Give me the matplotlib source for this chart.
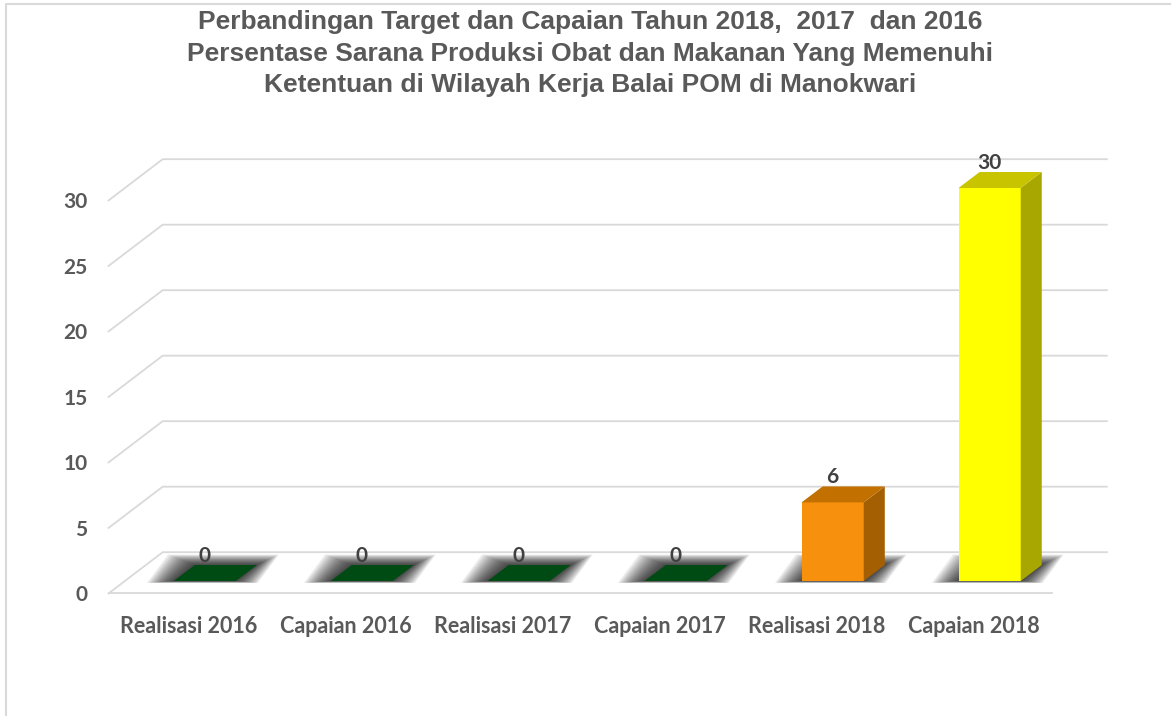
import numpy as np
import matplotlib.pyplot as plt
from matplotlib.patches import Polygon
from matplotlib.lines import Line2D

# data
categories = ['Realisasi 2016', 'Capaian 2016', 'Realisasi 2017',
              'Capaian 2017', 'Realisasi 2018', 'Capaian 2018']
values = [0, 0, 0, 0, 6, 30]
front_colors = ['#004A14', '#004A14', '#004A14', '#004A14', '#F7900D', '#FFFF00']
top_colors = ['#004A14', '#004A14', '#004A14', '#004A14', '#C27100', '#C8C400']
side_colors = ['#003A10', '#003A10', '#003A10', '#003A10', '#A45F03', '#A8A600']
yticks = [0, 5, 10, 15, 20, 25, 30]
title_lines = ['Perbandingan Target dan Capaian Tahun 2018,  2017  dan 2016',
               'Persentase Sarana Produksi Obat dan Makanan Yang Memenuhi',
               'Ketentuan di Wilayah Kerja Balai POM di Manokwari']

# fake 3d geometry (data units)
w = 0.396          # bar width
bdx, bdy = 0.134, 1.22   # bar depth offset
gfront, gback = -0.95, 2.2   # grid offsets front / back
gx_front, gx_back, gx_right = -0.613, -0.268, 5.747
floor_right = 5.40

grid_c = '#D9D9D9'
text_c = '#595959'

fig = plt.figure(figsize=(11.71, 7.16), dpi=100)
ax = fig.add_axes([0.07647, 0.1611, 0.8893, 0.6495])
ax.set_xlim(-0.734, 5.9)
ax.set_ylim(-1.5, 34)
for s in ax.spines.values():
    s.set_visible(False)

# walls / gridlines
for v in yticks:
    ax.plot([gx_front, gx_back, gx_right], [v + gfront, v + gback, v + gback],
            color=grid_c, lw=1.3, zorder=0.5, solid_joinstyle='miter')
ax.plot([gx_front, floor_right], [gfront, gfront], color=grid_c, lw=1.3, zorder=0.5)

x = np.arange(len(categories))

# soft shadows on the floor
for i, v in zip(x, values):
    x0, x1 = i - w / 2, i + w / 2
    for k in range(14, 0, -1):
        t = k / 14
        el, er, eu, ed = 0.17 * t, 0.14 * t, 0.8 * t, 0.15 * t
        pts = [(x0 - el, -ed), (x1 + er, -ed),
               (x1 + bdx + er, bdy + eu), (x0 + bdx - el, bdy + eu)]
        ax.add_patch(Polygon(pts, closed=True, color='black', alpha=0.08,
                             lw=0, zorder=1))

# bars
for i, v, fc, tc, sc in zip(x, values, front_colors, top_colors, side_colors):
    x0, x1 = i - w / 2, i + w / 2
    if v > 0:
        ax.add_patch(Polygon([(x0, 0), (x1, 0), (x1, v), (x0, v)],
                             color=fc, lw=0, zorder=3))
        ax.add_patch(Polygon([(x1, 0), (x1 + bdx, bdy), (x1 + bdx, v + bdy), (x1, v)],
                             color=sc, lw=0, zorder=3))
    ax.add_patch(Polygon([(x0, v), (x1, v), (x1 + bdx, v + bdy), (x0 + bdx, v + bdy)],
                         color=tc, lw=0, zorder=3))
    ax.text(i, v + bdy + 0.72, str(v), ha='center', va='center', fontsize=15,
            fontweight='bold', family='Lato', color='#404040', zorder=4)

# axis labels
ax.set_yticks([v + gfront for v in yticks])
ax.set_yticklabels([str(v) for v in yticks])
ax.set_xticks(x - 0.1)
ax.set_xticklabels(categories)
ax.tick_params(axis='both', length=0, labelsize=15.5, labelcolor=text_c)
ax.tick_params(axis='y', pad=1.5, labelsize=15)
ax.tick_params(axis='x', pad=11)
for lab in ax.get_xticklabels() + ax.get_yticklabels():
    lab.set_fontweight('bold')
    lab.set_family('Lato')

# title
for k, line in enumerate(title_lines):
    fig.text(590 / 1171, 1 - (22 + 31.5 * k) / 716, line, ha='center', va='center',
             fontsize=19, fontweight='bold', family='Liberation Sans', color=text_c)

# chart border
fig.add_artist(Line2D([6 / 1171, 6 / 1171, 1.0], [0.0, 1 - 4 / 716, 1 - 4 / 716],
                      color=grid_c, lw=1.5, transform=fig.transFigure))

fig.savefig('out.png', dpi=100)
